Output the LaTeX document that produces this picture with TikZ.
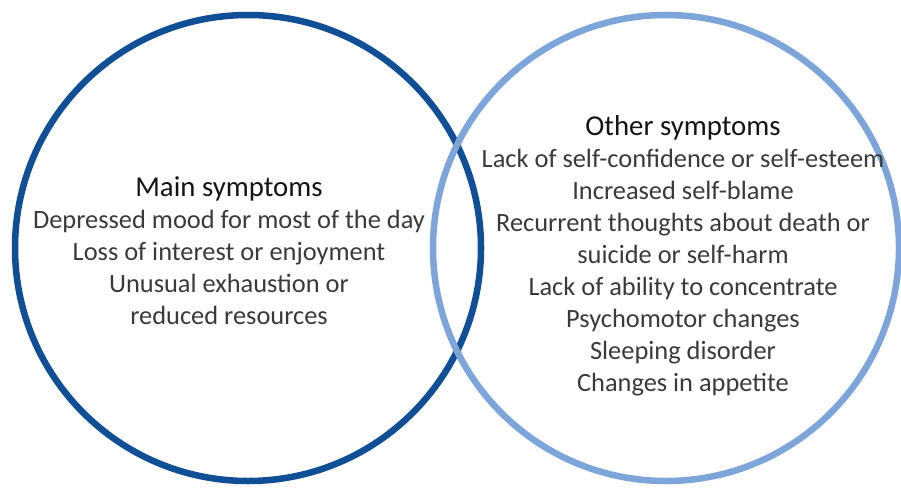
\documentclass[tikz,border=0pt]{standalone}
\usepackage{fontspec}
\setmainfont{Carlito}
\definecolor{darkring}{RGB}{16,78,150}
\definecolor{lightring}{RGB}{125,165,218}
\definecolor{bodytext}{RGB}{58,58,58}
\definecolor{headtext}{RGB}{20,20,20}
\newcommand{\blockhead}[1]{{\color{headtext}\fontsize{28.8}{32}\selectfont #1}}
\begin{document}
\begin{tikzpicture}[x=1pt,y=-1pt,
  ring/.style={draw,line width=6.5pt,circle,minimum size=466pt,inner sep=0pt},
  block/.style={align=center,text=bodytext,font=\fontsize{26.4}{32}\selectfont,inner sep=0pt}]
  \useasboundingbox[fill=white] (0,0) rectangle (901,487);
  % the two overlapping circles, the lighter one drawn over the darker
  \node[ring,darkring] (main) at (248,248) {};
  \node[ring,lightring] (other) at (666,248) {};
  % symptom lists
  \node[block,anchor=north] (mainlist) at (229,176) {%
    \blockhead{Main symptoms}\\
    Depressed mood for most of the day\\
    Loss of interest or enjoyment\\
    Unusual exhaustion or\\
    reduced resources};
  \node[block,anchor=north] (otherlist) at (683,115) {%
    \blockhead{Other symptoms}\\
    Lack of self-confidence or self-esteem\\
    Increased self-blame\\
    Recurrent thoughts about death or\\
    suicide or self-harm\\
    Lack of ability to concentrate\\
    Psychomotor changes\\
    Sleeping disorder\\
    Changes in appetite};
\end{tikzpicture}
\end{document}
